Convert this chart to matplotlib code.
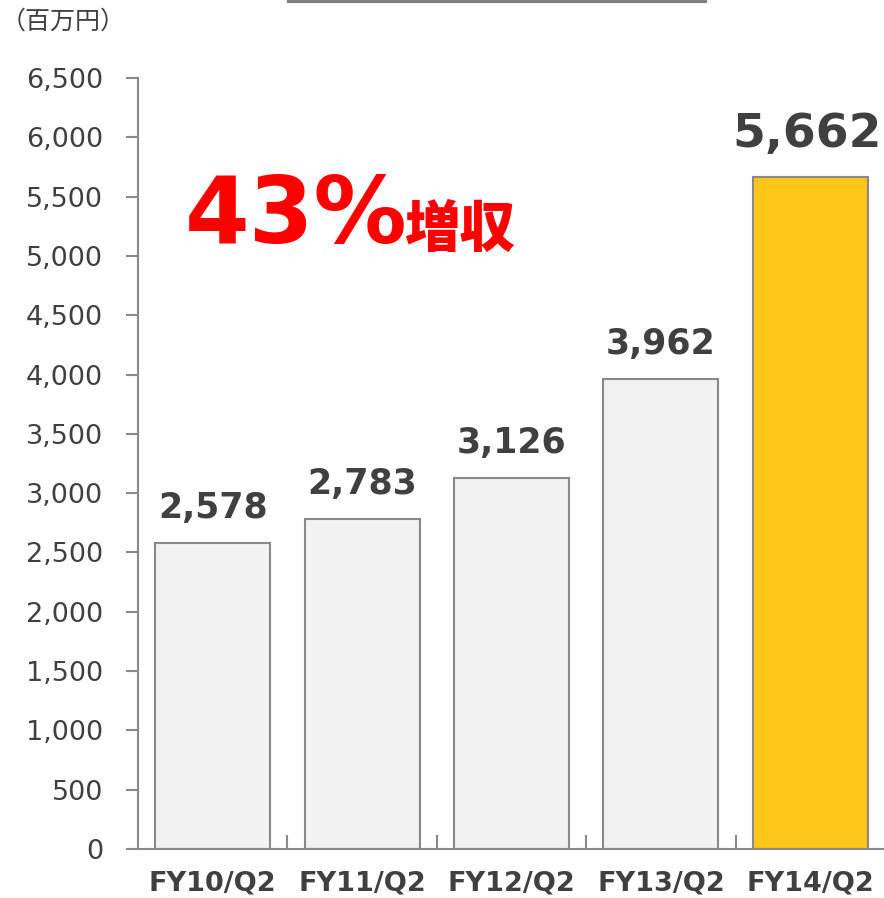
import matplotlib
matplotlib.use("Agg")
import matplotlib.pyplot as plt
from matplotlib.lines import Line2D

# data
categories = ["FY10/Q2", "FY11/Q2", "FY12/Q2", "FY13/Q2", "FY14/Q2"]
sales = [2578, 2783, 3126, 3962, 5662]
yticks = list(range(0, 7000, 500))
unit_label = "（百万円）"
headline_num = "43%"
headline_txt = "増収"

plt.rcParams['font.family'] = ['DejaVu Sans', 'Noto Sans CJK JP']
dark = '#404040'
gray = '#898989'

fig = plt.figure(figsize=(8.84, 8.98), dpi=100)
ax = fig.add_axes([138/884, 1 - 849/898, (885 - 138)/884, (849 - 78)/898])

x = range(len(sales))
colors = ['#f2f2f2'] * (len(sales) - 1) + ['#fec619']
ax.bar(x, sales, width=0.77, color=colors, edgecolor=gray, linewidth=1.5, zorder=2)

for i, v in enumerate(sales):
    big = (i == len(sales) - 1)
    ax.text(i - (0.02 if big else 0), v + (170 if big else 150), f"{v:,}",
            ha='center', va='bottom', fontsize=34 if big else 25,
            fontweight='bold', color=dark)

ax.set_xlim(-0.5, len(sales) - 0.5)
ax.set_ylim(0, 6500)
ax.set_yticks(yticks)
ax.set_yticklabels([f"{t:,}" for t in yticks], fontsize=19.5, color=dark)
ax.tick_params(axis='y', direction='out', length=9, width=1.5, color=gray, pad=16)

# category labels, separators between categories
ax.set_xticks([i + 0.5 for i in range(len(sales) - 1)])
ax.set_xticklabels([])
ax.tick_params(axis='x', direction='in', length=10, width=1.5, color=gray)
for i, c in enumerate(categories):
    ax.text(i, -290, c, ha='center', va='center', fontsize=19.5,
            fontweight='bold', color=dark)

for s in ['top', 'right']:
    ax.spines[s].set_visible(False)
for s in ['left', 'bottom']:
    ax.spines[s].set_color(gray)
    ax.spines[s].set_linewidth(1.5)

# headline
fig.text(185/884, 1 - 243/898, headline_num, fontsize=67, fontweight='bold',
         color='#ff0000', ha='left', va='baseline')
fig.text(404/884, 1 - 247/898, headline_txt, fontsize=40, fontweight='black',
         color='#ff0000', ha='left', va='baseline', family=['Noto Sans CJK JP'])

fig.text(0.5/884, 1 - 22/898, unit_label, fontsize=18, color=dark,
         ha='left', va='center', family=['Noto Sans CJK JP'])

# top border remnant
fig.add_artist(Line2D([289/884, 705/884], [1 - 1/898, 1 - 1/898],
                      transform=fig.transFigure, color='#808080', linewidth=3))

fig.savefig('out.png', dpi=100)
